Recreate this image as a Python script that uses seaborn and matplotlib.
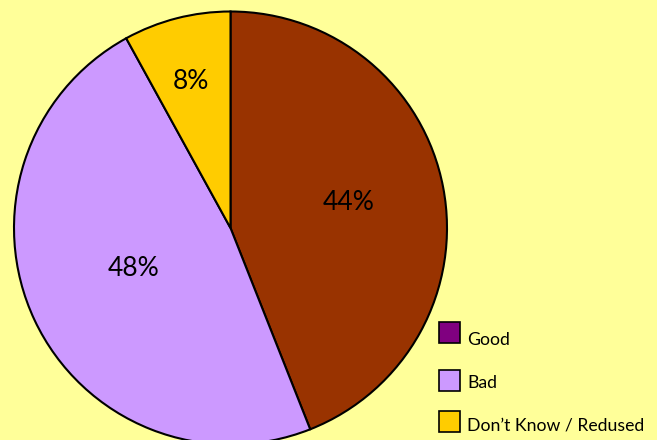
import matplotlib
matplotlib.use("Agg")
import matplotlib.pyplot as plt
from matplotlib.patches import Rectangle
import seaborn as sns
import numpy as np

# Data
slice_labels = ["Good", "Bad", "Don\u2019t Know / Redused"]
slice_values = [44, 48, 8]
slice_colors = ["#993300", "#CC99FF", "#FFCC00"]
legend_labels = ["Good", "Bad", "Don\u2019t Know / Redused"]
legend_colors = ["#800080", "#CC99FF", "#FFCC00"]

sns.set_style("white")
plt.rcParams['font.family'] = ['Lato', 'DejaVu Sans']

W, H = 657, 440
fig = plt.figure(figsize=(W / 100, H / 100), dpi=100, facecolor="#FFFF99")
ax = fig.add_axes([0, 0, 1, 1])
ax.set_facecolor("#FFFF99")

cx, cy, r = 230.5, H - 228, 216.5
wedges, texts, autotexts = ax.pie(
    slice_values, colors=slice_colors, startangle=90, counterclock=False,
    center=(cx, cy), radius=r, autopct="%d%%", pctdistance=0.55,
    wedgeprops=dict(edgecolor="black", linewidth=1.5),
    textprops=dict(fontsize=19, color="black"), frame=True)
ax.set_xlim(0, W)
ax.set_ylim(0, H)
ax.set_aspect("equal")
ax.axis("off")

# adjust label distances per slice
dists = [0.55, 0.5, 0.72]
offsets = [(1, 3), (1, 6), (-1, -4)]
start = 90.0
total = sum(slice_values)
for v, t, d, (ox, oy) in zip(slice_values, autotexts, dists, offsets):
    mid = np.deg2rad(start - v / total * 360 / 2)
    t.set_position((cx + d * r * np.cos(mid) + ox, cy + d * r * np.sin(mid) + oy))
    start -= v / total * 360

# legend (manual)
box_ys = [332, 380, 421.5]
text_baselines = [345, 388, 430.5]
for lab, col, y, tb in zip(legend_labels, legend_colors, box_ys, text_baselines):
    ax.add_patch(Rectangle((438.5, H - y - 10.5), 21, 21, facecolor=col,
                           edgecolor="black", linewidth=1.2, clip_on=False))
    ax.text(467, H - tb, lab, fontsize=12.7, va="baseline", ha="left", color="black")

fig.savefig("out.png", dpi=100, facecolor=fig.get_facecolor())
